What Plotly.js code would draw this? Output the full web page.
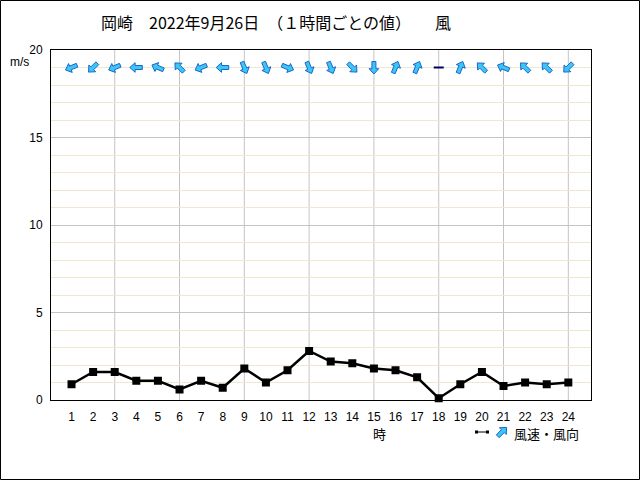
<!DOCTYPE html>
<html><head><meta charset="utf-8">
<script src="https://cdn.plot.ly/plotly-3.0.1.min.js"></script>
<style>body{margin:0;background:#fff}#chart{width:640px;height:480px}</style>
</head><body><div id="chart"></div>
<script>
// ---- data ----
const hours = [1,2,3,4,5,6,7,8,9,10,11,12,13,14,15,16,17,18,19,20,21,22,23,24];
const speed = [0.9,1.6,1.6,1.1,1.1,0.6,1.1,0.7,1.8,1.0,1.7,2.8,2.2,2.1,1.8,1.7,1.3,0.1,0.9,1.6,0.8,1.0,0.9,1.0];
// wind direction (where the wind blows from); "calm" = 静穏
const windDir = ["ENE","NE","ENE","E","ESE","SE","ENE","E","NNW","NNW","WNW","NNW","NNW","NW","N","SSW","SSW","calm","SSW","SE","ESE","SE","SE","NE"];
const compass = ["N","NNE","NE","ENE","E","ESE","SE","SSE","S","SSW","SW","WSW","W","WNW","NW","NNW"];
const gridHours = [3,6,9,12,15,18,21,24];
const yTickVals = [0,5,10,15,20];
const titleText = "岡崎　2022年9月26日　（１時間ごとの値）　　風";
const legendText = "風速・風向";
const xTitle = "時";
const yUnit = "m/s";
const arrowLevel = 19;

// ---- layout constants ----
const W = 640, H = 480, ML = 51, MR = 49, MT = 50, MB = 80;
const PW = W - ML - MR, PH = H - MT - MB;
const ARROW_FILL = "#3cc6f4", ARROW_LINE = "#1a66cc";

function arrowPath(bearing) {
  const base = [[0,6.5],[4.8,1.2],[2,1.2],[2,-6],[-2,-6],[-2,1.2],[-4.8,1.2]];
  const t = bearing * Math.PI / 180, c = Math.cos(t), s = Math.sin(t);
  return base.map((p, i) => {
    const x = p[0]*c + p[1]*s, y = -p[0]*s + p[1]*c;
    return (i ? "L" : "M") + x.toFixed(2) + "," + y.toFixed(2);
  }).join("") + "Z";
}

const shapes = [];
// vertical grid lines every 3 hours
gridHours.forEach(h => shapes.push({type:"line", xref:"x", yref:"paper", x0:h, x1:h, y0:0, y1:1,
  line:{color:"#c4c4c4", width:1}, layer:"below"}));
// wind arrows
hours.forEach((h, i) => {
  const d = windDir[i];
  if (d === "calm") {
    shapes.push({type:"line", xref:"x", yref:"y", xsizemode:"pixel", ysizemode:"pixel",
      xanchor:h, yanchor:arrowLevel, x0:-5, x1:5, y0:0, y1:0, line:{color:"#000066", width:2}});
  } else {
    const bearing = (compass.indexOf(d) * 22.5 + 180) % 360;
    shapes.push({type:"path", xref:"x", yref:"y", xsizemode:"pixel", ysizemode:"pixel",
      xanchor:h, yanchor:arrowLevel, path:arrowPath(bearing),
      fillcolor:ARROW_FILL, line:{color:ARROW_LINE, width:1}});
  }
});
// legend swatches (paper coords)
const px = x => (x - ML) / PW, py = y => (H - MB - y) / PH;
shapes.push({type:"line", xref:"paper", yref:"paper", x0:px(476), x1:px(488), y0:py(432), y1:py(432), line:{color:"#000", width:1}});
[476.5, 487.5].forEach(x => shapes.push({type:"rect", xref:"paper", yref:"paper", xsizemode:"pixel", ysizemode:"pixel",
  xanchor:px(x), yanchor:py(432), x0:-1.5, x1:1.5, y0:-1.5, y1:1.5, fillcolor:"#000", line:{width:0}}));
shapes.push({type:"path", xref:"paper", yref:"paper", xsizemode:"pixel", ysizemode:"pixel",
  xanchor:px(502), yanchor:py(432), path:arrowPath(45), fillcolor:ARROW_FILL, line:{color:ARROW_LINE, width:1}});
// outer frame
shapes.push({type:"rect", xref:"paper", yref:"paper", x0:px(0.5), x1:px(639.5), y0:py(479.5), y1:py(0.5),
  line:{color:"#000", width:1}, fillcolor:"rgba(0,0,0,0)"});

const tickFont = {family:"Liberation Sans, Arial, sans-serif", size:12, color:"#000"};
const cjk = "Noto Sans CJK JP, sans-serif";

const data = [{
  x: hours, y: speed, type:"scatter", mode:"lines+markers",
  line:{color:"#000", width:2.5}, marker:{symbol:"square", size:8, color:"#000"},
  cliponaxis:false, showlegend:false, hoverinfo:"skip"
}];

const layout = {
  width:W, height:H, margin:{l:ML, r:MR, t:MT, b:MB, pad:0},
  paper_bgcolor:"#fff", plot_bgcolor:"#fff", showlegend:false,
  title:{text:titleText, x:101/W, xanchor:"left", y:1-23/H, yanchor:"middle",
    font:{family:cjk, size:16, color:"#000"}},
  xaxis:{range:[0.05,25.05], tickmode:"array", tickvals:hours, ticktext:hours.map(String),
    showgrid:false, zeroline:false, showline:true, mirror:true, linecolor:"#000", linewidth:1,
    ticks:"outside", ticklen:6, tickcolor:"rgba(0,0,0,0)", tickfont:tickFont, fixedrange:true},
  yaxis:{range:[0,20], tickmode:"array", tickvals:yTickVals, showgrid:true, gridcolor:"#c4c4c4", gridwidth:1,
    minor:{dtick:1, tick0:0, showgrid:true, gridcolor:"#efe8cf", gridwidth:1, ticks:""},
    zeroline:false, showline:true, mirror:true, linecolor:"#000", linewidth:1,
    ticks:"outside", ticklen:5, tickcolor:"rgba(0,0,0,0)", tickfont:tickFont, fixedrange:true},
  shapes: shapes,
  annotations:[
    {text:yUnit, xref:"paper", yref:"paper", x:px(19), y:py(62), showarrow:false, xanchor:"center", yanchor:"middle",
      font:{family:"Liberation Sans, sans-serif", size:12, color:"#000"}},
    {text:xTitle, xref:"paper", yref:"paper", x:px(379), y:py(433), showarrow:false, xanchor:"center", yanchor:"middle",
      font:{family:cjk, size:13, color:"#000"}},
    {text:legendText, xref:"paper", yref:"paper", x:px(512), y:py(433), showarrow:false, xanchor:"left", yanchor:"middle",
      font:{family:cjk, size:13, color:"#000"}}
  ]
};

Plotly.newPlot("chart", data, layout, {staticPlot:true, displayModeBar:false});
</script>
</body></html>
